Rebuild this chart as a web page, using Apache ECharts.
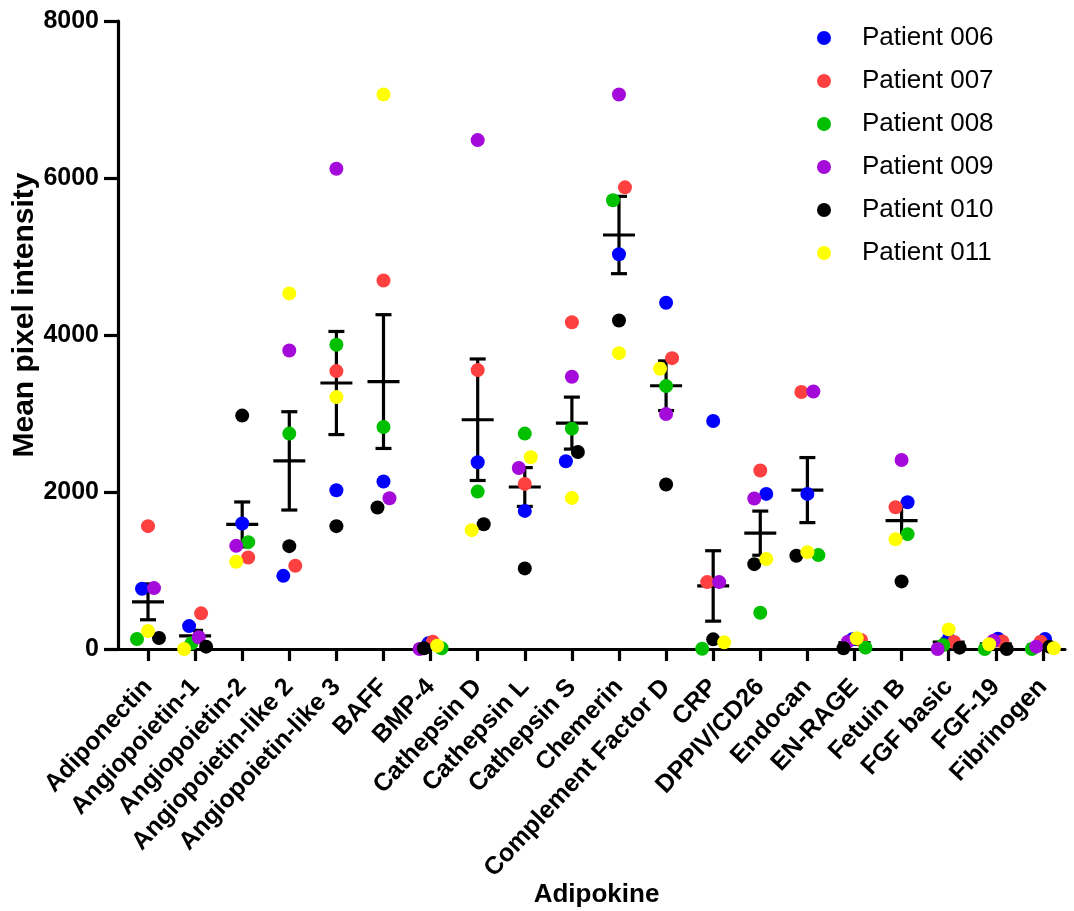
<!DOCTYPE html>
<html>
<head>
<meta charset="utf-8">
<title>Adipokine mean pixel intensity</title>
<script src="https://cdn.jsdelivr.net/npm/echarts@6/dist/echarts.min.js"></script>
<style>
  html, body { margin: 0; padding: 0; background: #fff; }
  #chart { width: 1074px; height: 911px; }
</style>
</head>
<body>
<div id="chart"></div>
<script>
// Adipokines measured on the array
const categories = [
  'Adiponectin', 'Angiopoietin-1', 'Angiopoietin-2', 'Angiopoietin-like 2',
  'Angiopoietin-like 3', 'BAFF', 'BMP-4', 'Cathepsin D', 'Cathepsin L',
  'Cathepsin S', 'Chemerin', 'Complement Factor D', 'CRP', 'DPPIV/CD26',
  'Endocan', 'EN-RAGE', 'Fetuin B', 'FGF basic', 'FGF-19', 'Fibrinogen'
];

// Mean pixel intensity per patient, one value per adipokine (same order)
const patient006 = [767, 292, 1599, 932, 2022, 2133, 72, 2379, 1759, 2392, 5028, 4410, 2904, 1976, 1976, 123, 1870, 127, 131, 127];
const patient007 = [1565, 454, 1166, 1060, 3540, 4694, 93, 3553, 2103, 4163, 5881, 3705, 852, 2273, 3273, 115, 1806, 90, 95, 93];
const patient008 = [127, 72, 1361, 2744, 3876, 2828, 9, 2005, 2744, 2807, 5716, 3349, 4, 462, 1196, 17, 1463, 51, 0, 0];
const patient009 = [776, 149, 1314, 3803, 6118, 1920, 0, 6483, 2306, 3469, 7064, 2993, 852, 1917, 3280, 93, 2408, 0, 106, 30];
const patient010 = [140, 30, 2973, 1310, 1565, 1802, 9, 1590, 1027, 2510, 4185, 2095, 123, 1081, 1187, 9, 861, 17, 0, 30];
const patient011 = [229, 0, 1111, 4530, 3209, 7064, 42, 1514, 2442, 1925, 3769, 3570, 85, 1145, 1234, 136, 1399, 250, 60, 9];

const patientNames = ['Patient 006', 'Patient 007', 'Patient 008', 'Patient 009', 'Patient 010', 'Patient 011'];
const patientValues = [patient006, patient007, patient008, patient009, patient010, patient011];
const patientColors = ['#0000ff', '#ff4040', '#00c000', '#a40ad9', '#000000', '#ffff00'];

// y axis ticks
const yTicks = [0, 2000, 4000, 6000, 8000];

// ---- layout ----
const W = 1074, H = 911;
const GRID = { left: 118, right: 9, top: 21, bottom: 262 };
const X_MIN = -0.637, X_MAX = 19.47;
const Y_MAX = 8000;
const pxPerCat = (W - GRID.left - GRID.right) / (X_MAX - X_MIN);
const pxPerUnit = (H - GRID.top - GRID.bottom) / Y_MAX;
const FONT = "'Liberation Sans', Arial, Helvetica, sans-serif";

// Scatter-dot spreading: points whose values sit within one marker height
// form a row; rows are spread sideways around the category centre.
const ROW_PX = 13;
function spreadOffsets(values) {
  const order = values.map((v, i) => i).sort((a, b) => values[a] - values[b] || a - b);
  const off = new Array(values.length).fill(0);
  let k = 0;
  while (k < order.length) {
    const start = values[order[k]];
    const row = [order[k]];
    k++;
    while (k < order.length && (values[order[k]] - start) * pxPerUnit < ROW_PX) {
      row.push(order[k]);
      k++;
    }
    const n = row.length;
    if (n > 1) {
      const step = Math.min(12, 22 / (n - 1));
      const slots = [];
      for (let j = 0; j < n; j++) slots.push((j - (n - 1) / 2) * step);
      // outer slots first, alternating left / right, moving inward
      const seq = [];
      let lo = 0, hi = n - 1;
      while (lo <= hi) {
        seq.push(slots[lo]);
        if (hi !== lo) seq.push(slots[hi]);
        lo++; hi--;
      }
      row.forEach((idx, m) => { off[idx] = seq[m]; });
    }
  }
  return off;
}

// per-category horizontal offsets (in category units) for each patient
const offsets = patientValues.map(() => []);
categories.forEach((c, ci) => {
  const vals = patientValues.map(p => p[ci]);
  const off = spreadOffsets(vals);
  off.forEach((o, pi) => { offsets[pi][ci] = o / pxPerCat; });
});

// mean and standard error of the mean per adipokine
const summary = categories.map((c, ci) => {
  const vals = patientValues.map(p => p[ci]);
  const n = vals.length;
  const mean = vals.reduce((a, b) => a + b, 0) / n;
  const sd = Math.sqrt(vals.reduce((a, b) => a + (b - mean) * (b - mean), 0) / (n - 1));
  const sem = sd / Math.sqrt(n);
  return [ci, mean, mean - sem, mean + sem];
});

const scatterSeries = patientNames.map((name, pi) => ({
  name: name,
  type: 'scatter',
  symbol: 'circle',
  symbolSize: 14,
  itemStyle: { color: patientColors[pi], opacity: 1 },
  emphasis: { disabled: true },
  z: 3,
  data: patientValues[pi].map((v, ci) => [ci + offsets[pi][ci], v])
}));

const errorSeries = {
  type: 'custom',
  name: 'mean',
  silent: true,
  z: 2,
  encode: { x: 0, y: [1, 2, 3] },
  data: summary,
  renderItem: function (params, api) {
    const x = api.value(0);
    const pMean = api.coord([x, api.value(1)]);
    const pLo = api.coord([x, api.value(2)]);
    const pHi = api.coord([x, api.value(3)]);
    const style = { stroke: '#000', lineWidth: 3.2, fill: null };
    const cx = pMean[0];
    return {
      type: 'group',
      children: [
        { type: 'line', shape: { x1: cx - 16, y1: pMean[1], x2: cx + 16, y2: pMean[1] }, style: style },
        { type: 'line', shape: { x1: cx, y1: pLo[1], x2: cx, y2: pHi[1] }, style: style },
        { type: 'line', shape: { x1: cx - 8, y1: pLo[1], x2: cx + 8, y2: pLo[1] }, style: style },
        { type: 'line', shape: { x1: cx - 8, y1: pHi[1], x2: cx + 8, y2: pHi[1] }, style: style }
      ]
    };
  }
};

const chart = echarts.init(document.getElementById('chart'), null, { renderer: 'canvas', width: W, height: H });

chart.setOption({
  animation: false,
  backgroundColor: '#fff',
  textStyle: { fontFamily: FONT },
  grid: {
    left: GRID.left, right: GRID.right, top: GRID.top, bottom: GRID.bottom,
    containLabel: false,
    outerBoundsMode: 'none'
  },
  legend: {
    data: patientNames,
    orient: 'vertical',
    left: 812,
    top: 20,
    icon: 'circle',
    itemWidth: 14,
    itemHeight: 14,
    itemGap: 17,
    selectedMode: false,
    textStyle: { fontFamily: FONT, fontSize: 26, color: '#000', padding: [0, 0, 0, 26] }
  },
  xAxis: {
    type: 'value',
    min: X_MIN,
    max: X_MAX,
    name: 'Adipokine',
    nameLocation: 'middle',
    nameGap: 233,
    nameMoveOverlap: false,
    nameTextStyle: { fontFamily: FONT, fontSize: 26, fontWeight: 'bold', color: '#000', padding: [0, 0, 0, 10] },
    splitLine: { show: false },
    axisLine: { show: true, onZero: false, lineStyle: { color: '#000', width: 3.2 } },
    axisTick: {
      show: true,
      length: 12,
      lineStyle: { color: '#000', width: 3.2 },
      customValues: categories.map((c, i) => i)
    },
    axisLabel: {
      show: true,
      rotate: 47,
      margin: 34,
      fontFamily: FONT,
      fontSize: 25,
      fontWeight: 'bold',
      color: '#000',
      customValues: categories.map((c, i) => i),
      formatter: function (v) { return categories[Math.round(v)] || ''; }
    }
  },
  yAxis: {
    type: 'value',
    min: 0,
    max: Y_MAX,
    interval: 2000,
    name: 'Mean pixel intensity',
    nameLocation: 'middle',
    nameGap: 78,
    nameMoveOverlap: false,
    nameTextStyle: { fontFamily: FONT, fontSize: 30, fontWeight: 'bold', color: '#000', padding: [0, 0, 0, 40] },
    splitLine: { show: false },
    axisLine: { show: true, onZero: false, lineStyle: { color: '#000', width: 3.2 } },
    axisTick: { show: true, length: 14, lineStyle: { color: '#000', width: 3.2 } },
    axisLabel: {
      margin: 19,
      fontFamily: FONT,
      fontSize: 25,
      fontWeight: 'bold',
      color: '#000',
      formatter: function (v) { return yTicks.indexOf(v) >= 0 ? String(v) : ''; }
    }
  },
  series: [errorSeries].concat(scatterSeries)
});
</script>
</body>
</html>
